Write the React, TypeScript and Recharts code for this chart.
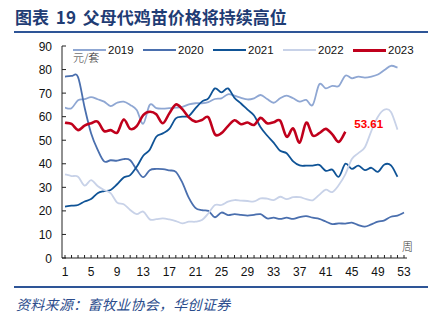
import React from 'react';
import { LineChart, Line, XAxis, YAxis, LabelList } from 'recharts';

const weeks = [1,2,3,4,5,6,7,8,9,10,11,12,13,14,15,16,17,18,19,20,21,22,23,24,25,26,27,28,29,30,31,32,33,34,35,36,37,38,39,40,41,42,43,44,45,46,47,48,49,50,51,52,53];
const weekLabels = [1,5,9,13,17,21,25,29,33,37,41,45,49,53];
const yTicks = [0,10,20,30,40,50,60,70,80,90];

const v2019 = [63.8,63.6,67.0,67.4,68.3,67.4,66.4,64.5,65.9,66.4,65.0,62.8,57.0,65.0,63.6,63.4,63.6,63.8,64.2,65.2,65.7,65.7,66.2,67.5,67.8,69.5,68.9,68.0,67.3,67.8,69.2,67.5,65.9,67.8,68.9,67.8,66.4,67.1,65.0,73.7,72.0,73.1,73.0,77.4,76.3,77.0,76.6,77.0,77.9,79.8,81.6,80.8];
const v2020 = [77.0,77.3,76.8,64.0,53.0,46.0,41.0,41.5,41.3,42.0,41.5,37.5,34.3,37.3,37.8,37.7,37.2,36.6,32.0,25.5,21.3,20.3,20.0,17.3,19.3,18.2,18.6,18.3,18.0,18.3,18.6,16.8,17.1,16.6,17.1,16.6,17.4,17.8,17.1,16.6,15.5,14.4,14.7,14.6,15.0,14.0,13.3,14.3,15.4,16.0,17.5,18.0,19.3];
const v2021 = [21.8,22.2,22.5,24.0,25.0,27.5,28.4,28.9,31.3,34.2,35.2,38.7,43.4,46.0,51.5,52.9,54.8,59.3,60.0,60.3,63.5,66.4,67.8,72.0,70.3,72.0,68.0,65.6,63.0,60.5,55.5,52.0,49.0,45.5,44.5,41.0,39.3,39.2,39.2,39.5,37.0,37.5,34.5,40.0,37.8,39.2,37.3,38.3,36.6,39.7,39.3,34.5];
const v2022 = [35.5,34.8,34.5,30.7,33.1,30.6,28.9,27.5,23.5,22.8,20.4,18.6,19.7,16.4,16.5,16.8,16.4,15.7,14.7,15.4,15.4,16.1,19.0,22.5,22.5,23.9,24.6,24.4,24.2,24.0,25.3,25.2,24.6,26.0,25.0,25.8,25.8,25.0,24.5,26.8,29.0,28.0,31.0,35.5,42.0,44.5,47.0,54.0,60.0,63.0,62.0,54.5];
const v2023 = [57.4,56.9,54.3,56.2,57.2,57.9,53.9,54.3,53.2,58.8,54.8,56.0,60.7,62.1,61.0,57.2,61.4,65.2,63.2,59.7,57.9,58.6,59.7,52.5,53.0,56.0,58.5,56.8,57.5,56.5,59.5,57.2,57.6,58.3,51.5,55.0,49.0,57.5,52.0,53.0,54.8,52.5,49.3,53.61];

const series = [
  { key: '2019', values: v2019, color: '#8FA7D3', width: 1.8 },
  { key: '2020', values: v2020, color: '#4A6FAE', width: 1.8 },
  { key: '2021', values: v2021, color: '#0F5396', width: 1.8 },
  { key: '2022', values: v2022, color: '#C8D2E8', width: 1.8 },
  { key: '2023', values: v2023, color: '#C0001C', width: 2.6 },
];

const data = weeks.map((w, i) => {
  const row: any = { week: String(w) };
  series.forEach((s) => {
    row[s.key] = i < s.values.length ? s.values[i] : null;
  });
  return row;
});

const numFont = '"Liberation Sans", Arial, sans-serif';
const cjkFont = '"Noto Sans CJK SC", sans-serif';

// Catmull-Rom style smoothing (similar to spreadsheet "smoothed line")
function smoothCurve(context: any) {
  let pts: number[][] = [];
  return {
    areaStart() {},
    areaEnd() {},
    lineStart() {
      pts = [];
    },
    point(x: number, y: number) {
      pts.push([+x, +y]);
    },
    lineEnd() {
      const n = pts.length;
      if (n === 0) return;
      context.moveTo(pts[0][0], pts[0][1]);
      for (let i = 0; i < n - 1; i++) {
        const p0 = pts[i - 1] || pts[i];
        const p1 = pts[i];
        const p2 = pts[i + 1];
        const p3 = pts[i + 2] || p2;
        context.bezierCurveTo(
          p1[0] + (p2[0] - p0[0]) / 6,
          p1[1] + (p2[1] - p0[1]) / 6,
          p2[0] - (p3[0] - p1[0]) / 6,
          p2[1] - (p3[1] - p1[1]) / 6,
          p2[0],
          p2[1]
        );
      }
    },
  };
}

const XTick = (props: any) => {
  const { x, y, payload } = props;
  const w = Number(payload.value);
  const show = weekLabels.includes(w);
  return (
    <g>
      <line x1={x} x2={x} y1={y - 3} y2={y} stroke="#222" strokeWidth={1} />
      {show && (
        <text x={x} y={y + 18} textAnchor="middle" fontSize={12} fill="#111" fontFamily={numFont}>
          {w}
        </text>
      )}
    </g>
  );
};

const YTick = (props: any) => {
  const { x, y, payload } = props;
  return (
    <g>
      <line x1={x} x2={x + 4} y1={y} y2={y} stroke="#222" strokeWidth={1} />
      <text x={x - 10} y={y + 4.5} textAnchor="end" fontSize={12} fill="#111" fontFamily={numFont}>
        {payload.value}
      </text>
    </g>
  );
};

const LastLabel = (props: any) => {
  const { x, y, value, index } = props;
  if (index !== v2023.length - 1 || value == null) return null;
  return (
    <text x={x + 9} y={y - 3.5} fontSize={11.5} fontWeight={700} fill="#FF0000" fontFamily={numFont}>
      {Number(value).toFixed(2)}
    </text>
  );
};

export default function App() {
  return (
    <div style={{ position: 'absolute', left: 0, top: 0, width: 440, height: 321, background: '#fff', overflow: 'hidden' }}>
      <div style={{ position: 'absolute', left: 15, top: 6, fontSize: 17, fontWeight: 700, color: '#1F3C74', fontFamily: cjkFont, whiteSpace: 'nowrap', lineHeight: '22px', wordSpacing: 3 }}>
        图表 19 父母代鸡苗价格将持续高位
      </div>
      <div style={{ position: 'absolute', left: 14, top: 31, width: 414, height: 2, background: '#2E5597' }} />

      <div style={{ position: 'absolute', left: 0, top: 0 }}>
        <LineChart width={440} height={321} data={data} margin={{ top: 46, right: 33, left: 0, bottom: 0 }}>
          <XAxis
            dataKey="week"
            height={63}
            interval={0}
            padding={{ left: 3, right: 3 }}
            tickLine={false}
            tickSize={0}
            tickMargin={0}
            axisLine={{ stroke: '#222', strokeWidth: 1 }}
            tick={<XTick />}
          />
          <YAxis
            width={62}
            domain={[0, 90]}
            ticks={yTicks}
            interval={0}
            tickLine={false}
            tickSize={0}
            tickMargin={0}
            axisLine={{ stroke: '#222', strokeWidth: 1 }}
            tick={<YTick />}
          />
          {series.map((s) => (
            <Line
              key={s.key}
              dataKey={s.key}
              type={smoothCurve as any}
              stroke={s.color}
              strokeWidth={s.width}
              dot={false}
              activeDot={false}
              isAnimationActive={false}
            >
              {s.key === '2023' && <LabelList dataKey="2023" content={<LastLabel />} />}
            </Line>
          ))}
        </LineChart>
      </div>

      <div style={{ position: 'absolute', left: 73, top: 43, display: 'flex', alignItems: 'center', height: 14 }}>
        {series.map((s) => (
          <div key={s.key} style={{ width: 70, display: 'flex', alignItems: 'center' }}>
            <div style={{ width: 33, height: s.key === '2023' ? 3 : 2.5, background: s.color }} />
            <span style={{ marginLeft: 2, fontSize: 11.5, fontFamily: numFont, color: '#111', lineHeight: '14px' }}>{s.key}</span>
          </div>
        ))}
      </div>

      <div style={{ position: 'absolute', left: 73, top: 50, fontSize: 11, fontFamily: cjkFont, color: '#333', lineHeight: '14px', fontWeight: 300 }}>
        元/套
      </div>
      <div style={{ position: 'absolute', left: 402, top: 239, fontSize: 11, fontFamily: cjkFont, color: '#333', lineHeight: '14px', fontWeight: 300 }}>
        周
      </div>

      <div style={{ position: 'absolute', left: 14, top: 286, width: 414, height: 2, background: '#2E5597' }} />
      <div style={{ position: 'absolute', left: 16, top: 295, fontSize: 14, fontStyle: 'italic', color: '#2B4C8C', fontFamily: cjkFont, whiteSpace: 'nowrap', lineHeight: '18px', letterSpacing: 0.3 }}>
        资料来源：畜牧业协会，华创证券
      </div>
    </div>
  );
}
